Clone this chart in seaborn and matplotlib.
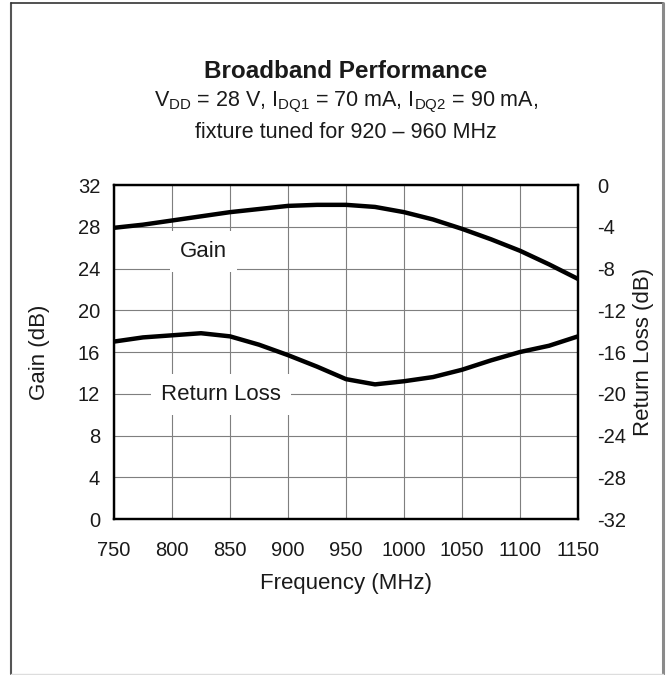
import matplotlib
matplotlib.use("Agg")
import matplotlib.pyplot as plt
import seaborn as sns
from matplotlib.lines import Line2D

# values
freq_mhz = [750, 775, 800, 825, 850, 875, 900, 925, 950, 975,
            1000, 1025, 1050, 1075, 1100, 1125, 1150]
gain_db = [27.9, 28.2, 28.6, 29.0, 29.4, 29.7, 30.0, 30.1, 30.1, 29.9,
           29.4, 28.7, 27.8, 26.8, 25.7, 24.4, 23.0]
return_loss_db = [-15.0, -14.6, -14.4, -14.2, -14.5, -15.3, -16.3, -17.4, -18.6, -19.1,
                  -18.8, -18.4, -17.7, -16.8, -16.0, -15.4, -14.5]

gain_ticks = list(range(0, 33, 4))
rl_ticks = list(range(-32, 1, 4))
freq_ticks = list(range(750, 1151, 50))

sns.set_style("white")
plt.rcParams['font.family'] = ['Liberation Sans', 'DejaVu Sans']
plt.rcParams['mathtext.fontset'] = 'custom'
plt.rcParams['mathtext.rm'] = 'Liberation Sans'
plt.rcParams['axes.unicode_minus'] = False

fig = plt.figure(figsize=(6.66, 6.75), dpi=100)
ax = fig.add_axes([0.1712, 0.2311, 0.6967, 0.4948])
ax2 = ax.twinx()

sns.lineplot(x=freq_mhz, y=gain_db, ax=ax, color='black', lw=3.2)
sns.lineplot(x=freq_mhz, y=return_loss_db, ax=ax2, color='black', lw=3.2)

ax.set_xlim(750, 1150)
ax.set_ylim(0, 32)
ax2.set_ylim(-32, 0)
ax.set_xticks(freq_ticks)
ax.set_yticks(gain_ticks)
ax2.set_yticks(rl_ticks)
ax.grid(True, color='#7f7f7f', lw=0.8)
ax2.grid(False)

text_col = '#1a1a1a'
ax.tick_params(axis='both', length=0, labelsize=14.5, labelcolor=text_col)
ax.tick_params(axis='y', pad=10)
ax.tick_params(axis='x', pad=16)
ax2.tick_params(axis='y', length=0, labelsize=14.5, labelcolor=text_col, pad=14)

for a in (ax, ax2):
    for s in a.spines.values():
        s.set_color('black')
        s.set_linewidth(1.6)

ax.set_xlabel('Frequency (MHz)', fontsize=16, color=text_col, labelpad=9)
ax.set_ylabel('Gain (dB)', fontsize=16, color=text_col, labelpad=20)
ax2.set_ylabel('Return Loss (dB)', fontsize=16, color=text_col, labelpad=4.5)

box = dict(boxstyle='square,pad=0.45', fc='white', ec='none')
ax.text(827, 25.6, 'Gain', ha='center', va='center', fontsize=16,
        color=text_col, bbox=box, zorder=5)
ax.text(842, 11.9, 'Return Loss', ha='center', va='center', fontsize=16,
        color=text_col, bbox=box, zorder=5)

cx = 346 / 666
fig.text(cx, 0.894, 'Broadband Performance', ha='center', va='center',
         fontsize=17.5, fontweight='bold', color=text_col)
fig.text(cx, 0.848,
         r'$\mathregular{V_{DD}}$ = 28 V, $\mathregular{I_{DQ1}}$ = 70 mA, '
         r'$\mathregular{I_{DQ2}}$ = 90 mA,',
         ha='center', va='center', fontsize=15.5, color=text_col)
fig.text(cx, 0.804, 'fixture tuned for 920 \u2013 960 MHz', ha='center', va='center',
         fontsize=15.5, color=text_col)

# page frame
l, r, t, b = 11 / 666, 663 / 666, 1 - 3 / 675, 1 - 674 / 675
fig.add_artist(Line2D([l, l], [b, t], color='#555555', lw=1.5))
fig.add_artist(Line2D([l, r], [t, t], color='#333333', lw=1.2))
fig.add_artist(Line2D([r, r], [b, t], color='#8a8a8a', lw=2.2))
fig.add_artist(Line2D([l, r], [b, b], color='#dddddd', lw=1.0))

fig.savefig('out.png', dpi=100)
